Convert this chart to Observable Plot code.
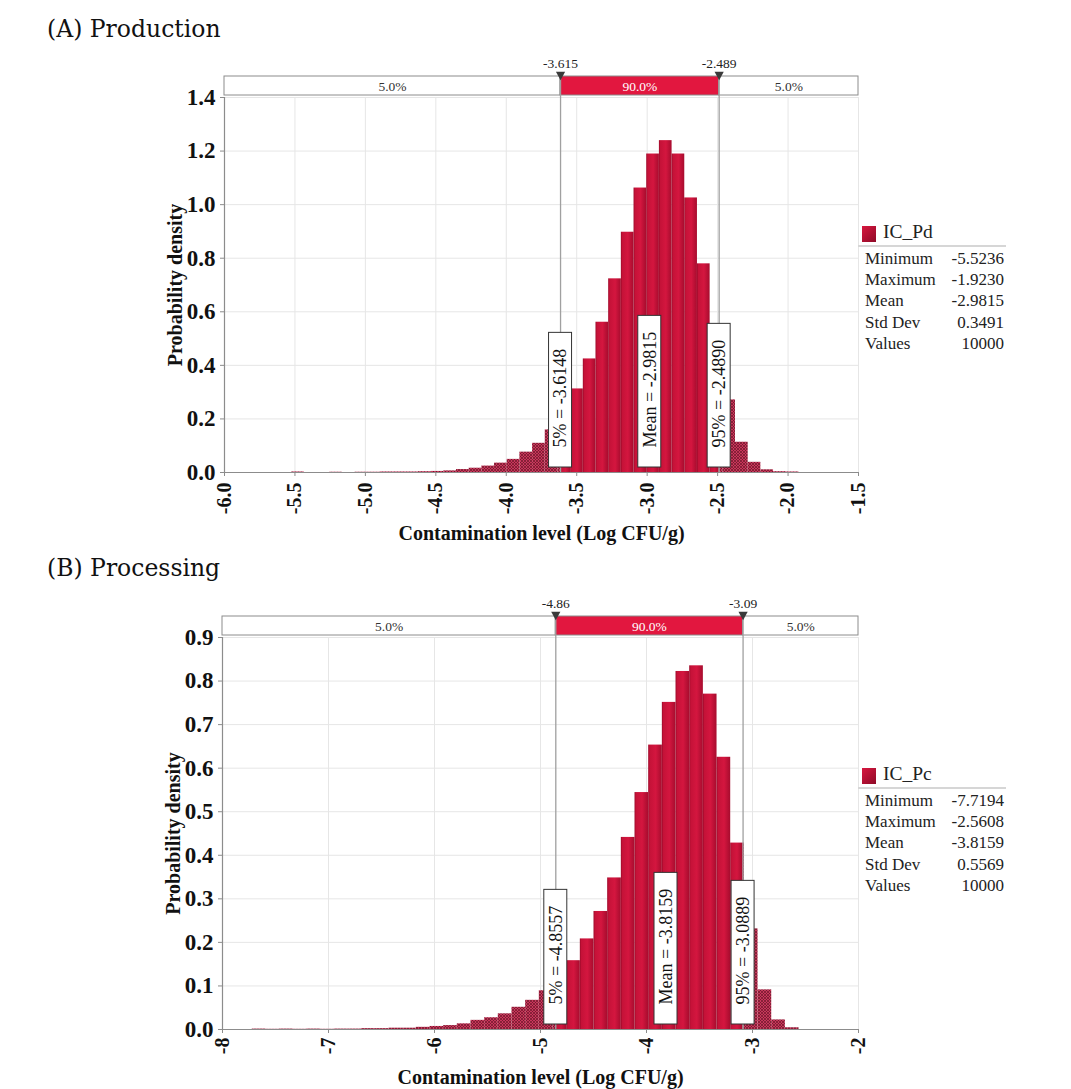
<!DOCTYPE html>
<html><head><meta charset="utf-8">
<script src="https://cdn.jsdelivr.net/npm/d3@7"></script>
<script src="https://cdn.jsdelivr.net/npm/@observablehq/plot@0.6"></script>
<style>
body{margin:0;background:#fff;}
#page{position:relative;width:1071px;height:1089px;overflow:hidden;font-family:"Liberation Serif","Times New Roman",serif;}
.title{position:absolute;left:47px;font-family:"DejaVu Serif",serif;font-size:23.5px;color:#111;white-space:pre;}
.chart{position:absolute;left:0;}
.leg{position:absolute;left:0;width:1071px;height:140px;font-family:"Liberation Serif",serif;color:#222;}
.leg .sw{position:absolute;width:14px;height:16px;background:linear-gradient(135deg,#d8173f,#8e0a27);}
.leg .name{position:absolute;font-size:19.5px;white-space:pre;}
.leg .line{position:absolute;height:0;border-top:2px solid #d6d6d6;}
.leg .row{position:absolute;font-size:17px;white-space:pre;}
</style></head><body><div id="page"></div>
<script>
// ---------------- DATA ----------------
const statLabels = ["Minimum", "Maximum", "Mean", "Std Dev", "Values"];

// (A) Production
const titleA = "(A) Production";
const nameA = "IC_Pd";
const minA = -5.5236, maxA = -1.9230, meanA = -2.9815;
const p5A = -3.6148, p95A = -2.4890;
const statValuesA = ["-5.5236", "-1.9230", "-2.9815", "0.3491", "10000"];
const delimLabelsA = ["-3.615", "-2.489"];
const stripLabelsA = ["5.0%", "90.0%", "5.0%"];
const annotLabelsA = ["5% = -3.6148", "Mean = -2.9815", "95% = -2.4890"];
const densA = [0.002, 0.000, 0.000, 0.001, 0.000, 0.001, 0.001, 0.002, 0.002, 0.002,
               0.003, 0.004, 0.006, 0.011, 0.016, 0.024, 0.035, 0.049, 0.076, 0.109,
               0.159, 0.230, 0.312, 0.424, 0.561, 0.723, 0.897, 1.062, 1.189, 1.239,
               1.189, 1.025, 0.779, 0.480, 0.271, 0.113, 0.038, 0.010, 0.003, 0.002];
const xDomainA = [-6, -1.5];
const xTicksA = [-6.0, -5.5, -5.0, -4.5, -4.0, -3.5, -3.0, -2.5, -2.0, -1.5];
const xTickLabelsA = ["-6.0", "-5.5", "-5.0", "-4.5", "-4.0", "-3.5", "-3.0", "-2.5", "-2.0", "-1.5"];
const yDomainA = [0, 1.4];
const yTicksA = [0, 0.2, 0.4, 0.6, 0.8, 1.0, 1.2, 1.4];
const yTickLabelsA = ["0.0", "0.2", "0.4", "0.6", "0.8", "1.0", "1.2", "1.4"];

// (B) Processing
const titleB = "(B) Processing";
const nameB = "IC_Pc";
const minB = -7.7194, maxB = -2.5608, meanB = -3.8159;
const p5B = -4.8557, p95B = -3.0889;
const statValuesB = ["-7.7194", "-2.5608", "-3.8159", "0.5569", "10000"];
const delimLabelsB = ["-4.86", "-3.09"];
const stripLabelsB = ["5.0%", "90.0%", "5.0%"];
const annotLabelsB = ["5% = -4.8557", "Mean = -3.8159", "95% = -3.0889"];
const densB = [0.001, 0.0005, 0.001, 0.0005, 0.001, 0.0005, 0.001, 0.001, 0.002, 0.002,
               0.003, 0.003, 0.005, 0.007, 0.009, 0.013, 0.021, 0.027, 0.036, 0.051,
               0.067, 0.089, 0.120, 0.158, 0.208, 0.271, 0.348, 0.441, 0.544, 0.653,
               0.751, 0.822, 0.835, 0.770, 0.625, 0.428, 0.231, 0.091, 0.022, 0.004];
const xDomainB = [-8, -2];
const xTicksB = [-8, -7, -6, -5, -4, -3, -2];
const xTickLabelsB = ["-8", "-7", "-6", "-5", "-4", "-3", "-2"];
const yDomainB = [0, 0.9];
const yTicksB = [0, 0.1, 0.2, 0.3, 0.4, 0.5, 0.6, 0.7, 0.8, 0.9];
const yTickLabelsB = ["0.0", "0.1", "0.2", "0.3", "0.4", "0.5", "0.6", "0.7", "0.8", "0.9"];

const xLabel = "Contamination level (Log CFU/g)";
const yLabel = "Probability density";

// ---------------- DRAWING ----------------
const page = document.getElementById("page");
const W = 1071;
const FONT = "'Liberation Serif', 'Times New Roman', serif";
const measureCtx = document.createElement("canvas").getContext("2d");
function textWidth(s, size) { measureCtx.font = `${size}px 'Liberation Serif'`; return measureCtx.measureText(s).width; }

// downward-pointing triangle symbol for the delimiter markers
const triangleDown = {
  draw(ctx, size) {
    const r = Math.sqrt(size / Math.PI);
    ctx.moveTo(-r, -r * 0.9);
    ctx.lineTo(r, -r * 0.9);
    ctx.lineTo(0, r * 0.9);
    ctx.closePath();
  }
};

function splitBins(dens, min, max, lo, hi) {
  const w = (max - min) / dens.length, out = [];
  dens.forEach((d, i) => {
    const a = min + i * w, b = a + w;
    const cuts = [a, ...[lo, hi].filter(c => c > a && c < b), b];
    for (let j = 0; j < cuts.length - 1; j++) {
      const m = (cuts[j] + cuts[j + 1]) / 2;
      out.push({x1: cuts[j], x2: cuts[j + 1], d, inside: m >= lo && m <= hi});
    }
  });
  return out;
}

function drawChart(c) {
  const t = document.createElement("div");
  t.className = "title"; t.style.top = c.titleTop + "px"; t.textContent = c.title;
  page.appendChild(t);

  const plotH = c.height - c.mt - c.mb;
  const plotW = W - c.ml - c.mr;
  const segs = splitBins(c.dens, c.min, c.max, c.p5, c.p95);
  const strip = [
    {x1: c.xDomain[0], x2: c.p5, label: c.stripLabels[0], fill: "#ffffff", color: "#333"},
    {x1: c.p5, x2: c.p95, label: c.stripLabels[1], fill: "#e2173f", color: "#ffffff"},
    {x1: c.p95, x2: c.xDomain[1], label: c.stripLabels[2], fill: "#ffffff", color: "#333"}
  ];
  const delims = [{v: c.p5, label: c.delimLabels[0]}, {v: c.p95, label: c.delimLabels[1]}];
  const annots = [
    {v: c.p5, label: c.annotLabels[0]},
    {v: c.mean, label: c.annotLabels[1]},
    {v: c.p95, label: c.annotLabels[2]}
  ];
  const xt = c.xTicks.map((v, i) => ({v, label: c.xTickLabels[i]}));
  const yt = c.yTicks.map((v, i) => ({v, label: c.yTickLabels[i]}));

  const annotMarks = annots.flatMap(a => {
    const boxH = textWidth(a.label, 18) + 36;
    return [
      Plot.rect([a], {x1: "v", x2: "v", insetLeft: -11.5, insetRight: -11.5,
        insetTop: plotH - 5 - boxH, insetBottom: 5, fill: "white", stroke: "#333", strokeWidth: 1}),
      Plot.text([a], {x: "v", text: "label", frameAnchor: "bottom", dy: -25, rotate: -90,
        textAnchor: "start", lineAnchor: "middle", fontSize: 18, fill: "#111", fontFamily: FONT})
    ];
  });

  const plot = Plot.plot({
    width: W, height: c.height,
    marginLeft: c.ml, marginRight: c.mr, marginTop: c.mt, marginBottom: c.mb,
    x: {domain: c.xDomain, axis: null},
    y: {domain: c.yDomain, axis: null},
    style: {background: "transparent", fontFamily: FONT, overflow: "visible"},
    marks: [
      Plot.ruleX(c.xTicks, {stroke: "#e6e6e6", strokeWidth: 1}),
      Plot.ruleY(c.yTicks, {stroke: "#e6e6e6", strokeWidth: 1}),
      Plot.rectY(segs.filter(s => !s.inside), {x1: "x1", x2: "x2", y1: 0, y2: "d", fill: `url(#hatch${c.id})`}),
      Plot.rectY(segs.filter(s => s.inside), {x1: "x1", x2: "x2", y1: 0, y2: "d", fill: `url(#grad${c.id})`}),
      // axes
      Plot.ruleX([c.xDomain[0]], {stroke: "#8c8c8c", strokeWidth: 1.2}),
      Plot.ruleY([c.yDomain[0]], {stroke: "#8c8c8c", strokeWidth: 1.2}),
      Plot.ruleX(c.xTicks, {insetTop: plotH, insetBottom: -4, stroke: "#8c8c8c"}),
      Plot.ruleY(c.yTicks, {insetLeft: -4, insetRight: plotW, stroke: "#8c8c8c"}),
      Plot.text(yt, {y: "v", text: "label", frameAnchor: "left", dx: -9, textAnchor: "end", lineAnchor: "middle",
        fontSize: 23, fontWeight: "bold", fill: "#111", fontFamily: FONT}),
      Plot.text(xt, {x: "v", text: "label", frameAnchor: "bottom", dy: c.tickDy, rotate: -90, textAnchor: "end", lineAnchor: "middle",
        fontSize: 20, fontWeight: "bold", fill: "#111", fontFamily: FONT}),
      Plot.text([xLabel], {frameAnchor: "bottom", dy: c.xLabelDy, lineAnchor: "middle", textAnchor: "middle",
        fontSize: 20, fontWeight: "bold", fill: "#111", fontFamily: FONT}),
      Plot.text([yLabel], {frameAnchor: "left", dx: -49, rotate: -90, textAnchor: "middle", lineAnchor: "middle",
        fontSize: 20, fontWeight: "bold", fill: "#111", fontFamily: FONT}),
      // delimiter strip
      Plot.rect(strip, {x1: "x1", x2: "x2", insetTop: -21, insetBottom: plotH + 2, fill: d => d.fill, stroke: "#8c8c8c", strokeWidth: 1}),
      Plot.text(strip, {x: d => (d.x1 + d.x2) / 2, text: "label", frameAnchor: "top", dy: -11, lineAnchor: "middle",
        fontSize: 13.5, fill: d => d.color, fontFamily: FONT}),
      Plot.ruleX(delims, {x: "v", insetTop: -21, stroke: "#a0a0a0", strokeWidth: 1.3}),
      Plot.dot(delims, {x: "v", frameAnchor: "top", dy: -21.5, r: 4.6, symbol: triangleDown, fill: "#3a3a3a", stroke: "none"}),
      Plot.text(delims, {x: "v", text: "label", frameAnchor: "top", dy: -34, lineAnchor: "middle",
        fontSize: 13.5, fill: "#222", fontFamily: FONT}),
      ...annotMarks
    ]
  });

  const svg = d3.select(plot);
  const defs = svg.insert("defs", ":first-child");
  const g = defs.append("linearGradient").attr("id", `grad${c.id}`).attr("x1", 0).attr("x2", 1).attr("y1", 0).attr("y2", 0);
  [["0", "#9c0a2a"], ["0.12", "#c51238"], ["0.55", "#d4163f"], ["1", "#a70c2e"]].forEach(([o, col]) =>
    g.append("stop").attr("offset", o).attr("stop-color", col));
  const p = defs.append("pattern").attr("id", `hatch${c.id}`).attr("width", 3).attr("height", 3).attr("patternUnits", "userSpaceOnUse");
  p.append("rect").attr("width", 3).attr("height", 3).attr("fill", "#c8375b");
  p.append("path").attr("d", "M0,0L3,3M3,0L0,3").attr("stroke", "#6e1529").attr("stroke-width", 0.7);

  const wrap = document.createElement("div");
  wrap.className = "chart"; wrap.style.top = c.top + "px";
  wrap.appendChild(plot);
  page.appendChild(wrap);

  // legend + stats
  const leg = document.createElement("div");
  leg.className = "leg"; leg.style.top = c.legTop + "px";
  let html = `<div class="sw" style="left:862px;top:0px"></div>`;
  html += `<div class="name" style="left:883px;top:-5px">${c.name}</div>`;
  html += `<div class="line" style="left:858px;top:19px;width:148px"></div>`;
  statLabels.forEach((s, i) => {
    const y = 23 + i * 21.2;
    html += `<div class="row" style="left:865px;top:${y}px">${s}</div>`;
    html += `<div class="row" style="right:${W - 1004}px;top:${y}px;text-align:right">${c.statValues[i]}</div>`;
  });
  leg.innerHTML = html;
  page.appendChild(leg);
}

drawChart({
  id: "A", title: titleA, titleTop: 15, top: 50, height: 497, mt: 47, mb: 75, ml: 224, mr: 213, xLabelDy: 61, tickDy: 10,
  name: nameA, statValues: statValuesA, legTop: 226,
  min: minA, max: maxA, mean: meanA, p5: p5A, p95: p95A, dens: densA,
  xDomain: xDomainA, xTicks: xTicksA, xTickLabels: xTickLabelsA,
  yDomain: yDomainA, yTicks: yTicksA, yTickLabels: yTickLabelsA,
  delimLabels: delimLabelsA, stripLabels: stripLabelsA, annotLabels: annotLabelsA
});
drawChart({
  id: "B", title: titleB, titleTop: 554, top: 590, height: 499, mt: 47, mb: 60, ml: 222, mr: 213, xLabelDy: 48, tickDy: 8,
  name: nameB, statValues: statValuesB, legTop: 768,
  min: minB, max: maxB, mean: meanB, p5: p5B, p95: p95B, dens: densB,
  xDomain: xDomainB, xTicks: xTicksB, xTickLabels: xTickLabelsB,
  yDomain: yDomainB, yTicks: yTicksB, yTickLabels: yTickLabelsB,
  delimLabels: delimLabelsB, stripLabels: stripLabelsB, annotLabels: annotLabelsB
});
</script></body></html>
